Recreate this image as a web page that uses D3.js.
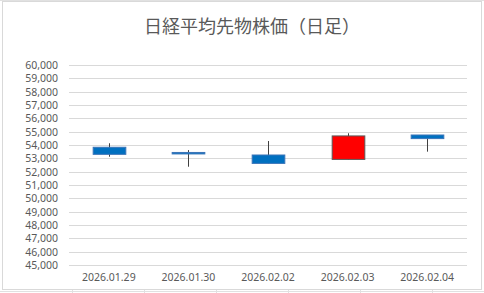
<!DOCTYPE html>
<html lang="ja">
<head>
    <meta charset="UTF-8">
    <title>日経平均先物株価（日足）</title>
    <script src="https://d3js.org/d3.v7.min.js"></script>
    <style>
        html, body {
            margin: 0;
            padding: 0;
            background: #ffffff;
            overflow: hidden;
        }
        svg {
            display: block;
        }
        .title {
            font-family: "Noto Sans CJK JP", sans-serif;
            font-size: 18px;
            fill: #595959;
        }
        .tick text {
            font-family: "Noto Sans", sans-serif;
            font-size: 10.5px;
            fill: #595959;
        }
    </style>
</head>
<body>
    <svg id="chart" width="484" height="293"></svg>

    <script>
        // data
        const dates = ["2026.01.29", "2026.01.30", "2026.02.02", "2026.02.03", "2026.02.04"];
        const openVals  = [53830, 53440, 53250, 52920, 54750];
        const highVals  = [54130, 53620, 54300, 54880, 54750];
        const lowVals   = [53120, 52370, 52620, 52920, 53500];
        const closeVals = [53300, 53330, 52620, 54680, 54480];
        const yTicks = d3.range(45000, 60001, 1000);

        const width = 484, height = 293;
        const margin = {top: 65, right: 17, bottom: 28, left: 69};

        const svg = d3.select("#chart");

        // spreadsheet cell lines peeking around the chart
        const cells = svg.append("g").attr("stroke", "#e1e1e1").attr("stroke-width", 1);
        cells.append("line").attr("x1", 0).attr("x2", width).attr("y1", 0.5).attr("y2", 0.5);
        cells.append("line").attr("x1", 0).attr("x2", width).attr("y1", 291.5).attr("y2", 291.5);
        [72, 144, 216, 288, 360, 432].forEach(cx => {
            cells.append("line").attr("x1", cx + 0.5).attr("x2", cx + 0.5).attr("y1", 0).attr("y2", 2);
            cells.append("line").attr("x1", cx + 0.5).attr("x2", cx + 0.5).attr("y1", 290).attr("y2", height);
        });

        // chart area
        svg.append("rect")
            .attr("x", 2.5).attr("y", 1.5)
            .attr("width", 479).attr("height", 288)
            .attr("fill", "#ffffff")
            .attr("stroke", "#d9d9d9");

        const data = dates.map((d, i) => ({
            date: d, open: openVals[i], high: highVals[i], low: lowVals[i], close: closeVals[i]
        }));

        const x = d3.scaleBand()
            .domain(dates)
            .range([margin.left, width - margin.right]);

        const y = d3.scaleLinear()
            .domain([45000, 60000])
            .range([height - margin.bottom, margin.top]);

        // gridlines
        svg.append("g")
            .selectAll("line")
            .data(yTicks)
            .enter().append("line")
            .attr("x1", margin.left)
            .attr("x2", width - margin.right)
            .attr("y1", d => Math.round(y(d)) + 0.5)
            .attr("y2", d => Math.round(y(d)) + 0.5)
            .attr("stroke", "#d9d9d9");

        // y axis labels
        const yAxis = svg.append("g")
            .attr("transform", `translate(${margin.left - 11},0)`)
            .call(d3.axisLeft(y).tickValues(yTicks).tickFormat(d3.format(",")).tickSize(0).tickPadding(0));
        yAxis.select(".domain").remove();

        // x axis labels
        const xAxis = svg.append("g")
            .attr("transform", `translate(0,${height - margin.bottom + 6})`)
            .call(d3.axisBottom(x).tickSize(0).tickPadding(3));
        xAxis.select(".domain").remove();

        // candles
        const bodyW = x.bandwidth() * 0.41;
        const candle = svg.append("g")
            .selectAll("g")
            .data(data)
            .enter().append("g")
            .attr("transform", d => `translate(${Math.round(x(d.date) + x.bandwidth() / 2) + 0.5},0)`);

        candle.append("line")
            .attr("y1", d => y(d.high))
            .attr("y2", d => y(d.low))
            .attr("stroke", "#404040")
            .attr("stroke-width", 1);

        candle.append("rect")
            .attr("x", -bodyW / 2)
            .attr("width", bodyW)
            .attr("y", d => y(Math.max(d.open, d.close)))
            .attr("height", d => Math.max(1, Math.abs(y(d.open) - y(d.close))))
            .attr("fill", d => d.close >= d.open ? "#ff0000" : "#0070c0")
            .attr("stroke", d => d.close >= d.open ? "#595959" : "#3a74b8")
            .attr("stroke-width", 1);

        // title
        svg.append("text")
            .attr("class", "title")
            .attr("x", 252)
            .attr("y", 33)
            .attr("text-anchor", "middle")
            .text("日経平均先物株価（日足）");
    </script>
</body>
</html>
